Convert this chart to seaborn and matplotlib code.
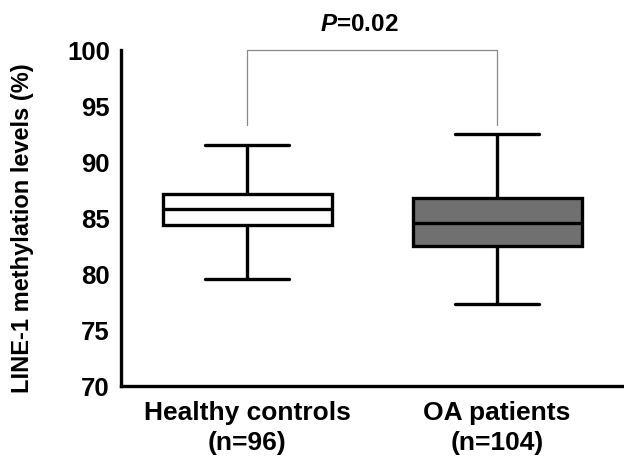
import matplotlib
matplotlib.use("Agg")
import matplotlib.pyplot as plt
import seaborn as sns
import pandas as pd

# Five-number summaries (min, Q1, median, Q3, max)
groups = ["Healthy controls\n(n=96)", "OA patients\n(n=104)"]
healthy_vals = [79.6, 84.4, 85.85, 87.15, 91.55]
oa_vals = [77.35, 82.55, 84.55, 86.85, 92.55]
p_text = "=0.02"
bracket_low = 93.3
y_ticks = [70, 75, 80, 85, 90, 95, 100]

sns.set_style("white")
plt.rcParams['font.family'] = ['Liberation Sans', 'DejaVu Sans']
plt.rcParams['text.color'] = 'black'
plt.rcParams['axes.labelcolor'] = 'black'
plt.rcParams['xtick.color'] = 'black'
plt.rcParams['ytick.color'] = 'black'
plt.rcParams['mathtext.fontset'] = 'custom'
plt.rcParams['mathtext.bfit'] = 'Liberation Sans:italic:bold'
plt.rcParams['mathtext.bf'] = 'Liberation Sans:bold'
plt.rcParams['mathtext.rm'] = 'Liberation Sans'
plt.rcParams['mathtext.it'] = 'Liberation Sans:italic'

df = pd.DataFrame({
    "group": [groups[0]] * len(healthy_vals) + [groups[1]] * len(oa_vals),
    "value": healthy_vals + oa_vals,
})

fig = plt.figure(figsize=(6.24, 4.59), dpi=100)
ax = fig.add_axes([0.194, 0.159, 0.803, 0.731])

lw = 2.4
sns.boxplot(data=df, x="group", y="value", hue="group",
            palette=["white", "#707070"], whis=(0, 100), width=0.676,
            linewidth=lw, linecolor="black", legend=False, ax=ax,
            medianprops=dict(color="black", linewidth=lw))

ax.set_xlim(-0.504, 1.50)
ax.set_ylim(70, 100)
ax.set_yticks(y_ticks)
ax.set_yticklabels([str(t) for t in y_ticks], fontsize=18.5, fontweight="bold")
ax.set_xticks([0, 1])
ax.set_xticklabels(groups, fontsize=19, fontweight="bold", linespacing=1.3)
ax.set_xlabel("")
ax.set_ylabel("LINE-1 methylation levels (%)", fontsize=17, fontweight="bold")
ax.yaxis.set_label_coords(-0.174, 0.47)

for s in ["top", "right"]:
    ax.spines[s].set_visible(False)
for s in ["left", "bottom"]:
    ax.spines[s].set_linewidth(2.4)
    ax.spines[s].set_color("black")
ax.tick_params(axis="both", direction="out", length=6, width=2.2, color="black")
ax.tick_params(axis="x", pad=5)
ax.tick_params(axis="y", pad=2)

# significance bracket
ax.plot([0, 0, 1, 1], [bracket_low, 100, 100, bracket_low], color="#888888",
        linewidth=0.9, clip_on=False)
ax.text(0.45, 102.3, r"$\mathbfit{P}$" + p_text, ha="center", va="center",
        fontsize=17.5, fontweight="bold")

fig.savefig("out.png", dpi=100)
